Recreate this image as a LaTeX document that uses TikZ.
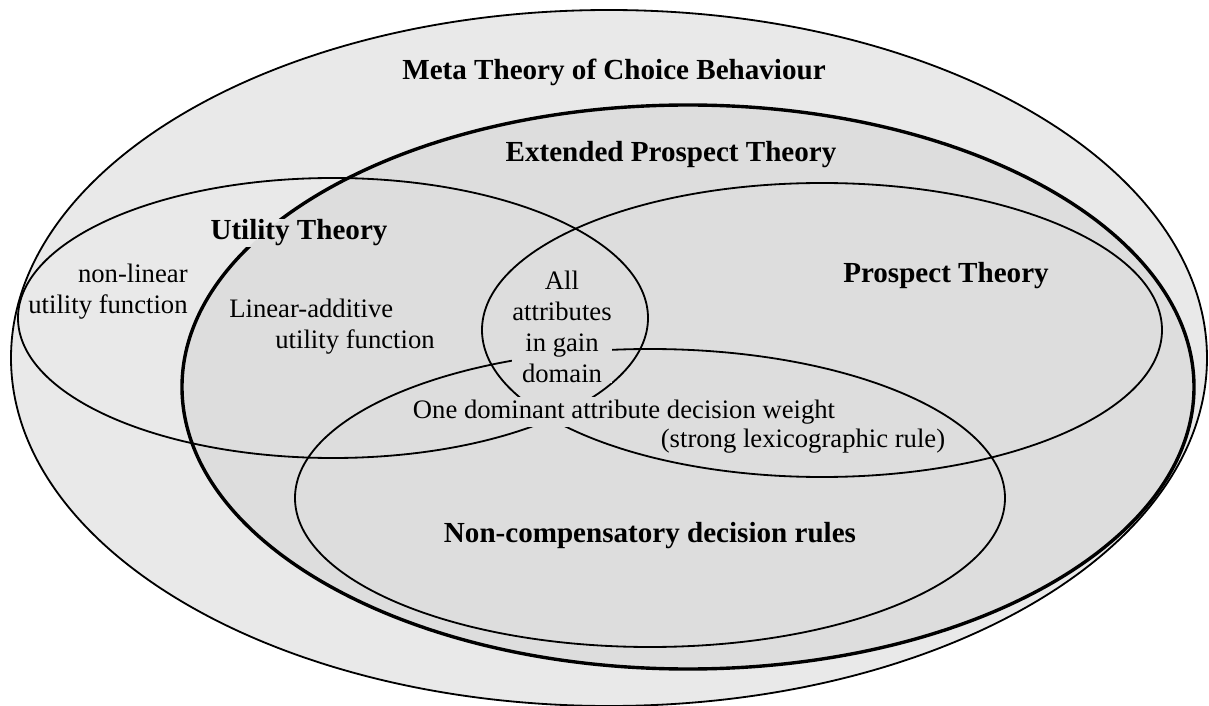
\documentclass[tikz,border=0pt]{standalone}
\usepackage{fontspec}
\setmainfont{Liberation Serif}
\definecolor{metagray}{HTML}{E9E9E9}
\definecolor{extgray}{HTML}{DDDDDD}
\begin{document}
\begin{tikzpicture}[x=0.4125pt,y=-0.4125pt,
    venn/.style={line width=0.75pt},
    theory/.style={font=\fontsize{12}{14}\selectfont\bfseries,inner sep=1pt},
    remark/.style={font=\fontsize{11}{12.8}\selectfont,inner sep=1pt}]
  \useasboundingbox (0,0) rectangle (1209,706);
  % sets
  \draw[venn,fill=metagray] (609,358) ellipse [x radius=598,y radius=348];
  \draw[line width=1.4pt,fill=extgray] (688,387) ellipse [x radius=506,y radius=282];
  \draw[venn] (333,318) ellipse [x radius=315,y radius=140];
  \draw[venn] (822,330) ellipse [x radius=340,y radius=147];
  \draw[venn] (650,498) ellipse [x radius=355,y radius=149];
  % titles
  \node[theory] (meta) at (614,72) {Meta Theory of Choice Behaviour};
  \node[theory] (ept) at (671,155) {Extended Prospect Theory};
  \node[theory,inner sep=0pt] (ut) at (299,233) {\phantom{Utility Theory}};
  \begin{scope}
    \clip (ut.south west) rectangle (ut.north east);
    \fill[metagray] (ut.south west) rectangle (ut.north east);
    \fill[extgray] (688,387) ellipse [x radius=506,y radius=282];
  \end{scope}
  \node[theory,inner sep=0pt] (utlabel) at (ut) {Utility Theory};
  \node[theory] (pt) at (946,276) {Prospect Theory};
  \node[theory] (ncr) at (650,536) {Non-compensatory decision rules};
  % remarks
  \node[remark,align=right] (nonlin) at (108,292) {non-linear\\utility function};
  \node[remark,align=left] (linadd) at (332,327) {Linear-additive\\\hspace{19pt}utility function};
  \node[remark,align=center,fill=extgray,inner sep=0pt] (gain) at (562,327) {All\\attributes\\in gain\\domain};
  \node[remark,fill=extgray] (dominant) at (624,412) {One dominant attribute decision weight};
  \node[remark] (lexi) at (803,441) {(strong lexicographic rule)};
\end{tikzpicture}
\end{document}
